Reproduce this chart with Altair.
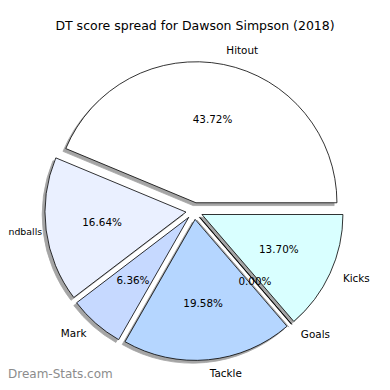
import altair as alt
import pandas as pd

labels = ["Hitout", "Handballs", "Mark", "Tackle", "Goals", "Kicks"]
values = [43.72, 16.64, 6.36, 19.58, 0.00, 13.70]
colors = ["#ffffff", "#eaf0ff", "#c6d9ff", "#b5d6ff", "#a8ccff", "#d9ffff"]
title_text = ["DT score spread for Dawson Simpson (2018)"]
watermark_text = ["Dream-Stats.com"]

df = pd.DataFrame({"label": labels, "value": values,
                   "order": list(range(len(labels))), "color": colors})

CX, CY, R, D = 186.3, 203.0, 141.0, 8.4
SH = 2.8
FONT = "DejaVu Sans"

base = (
    alt.Chart(df)
    .transform_joinaggregate(total="sum(value)")
    .transform_window(cum="sum(value)", sort=[alt.SortField("order")], frame=[None, 0])
    .transform_calculate(
        a1="(datum.cum - datum.value) / datum.total * 2 * PI",
        a2="datum.cum / datum.total * 2 * PI",
    )
    .transform_calculate(
        mid="(datum.a1 + datum.a2) / 2",
        t1="PI / 2 - datum.a2",
        t2="PI / 2 - datum.a1",
    )
    .transform_calculate(
        cx=f"{CX} + {D} * cos(datum.mid)",
        cy=f"{CY} - {D} * sin(datum.mid)",
    )
    .transform_calculate(
        edge="cos(datum.mid) < -0.9 ? 1 : 0",
        lx=f"datum.cx + 1.1 * {R} * cos(datum.mid) + (cos(datum.mid) < -0.9 ? 10 : 0)",
        ly=f"datum.cy - 1.1 * {R} * sin(datum.mid)",
        px=f"datum.cx + 0.6 * {R} * cos(datum.mid)",
        py=f"datum.cy - 0.6 * {R} * sin(datum.mid)",
        sx=f"datum.cx - {SH}",
        sy=f"datum.cy + {SH}",
        pct="format(datum.value / datum.total * 100, '.2f') + '%'",
        right="cos(datum.mid) >= 0 ? 1 : 0",
    )
)

shadow = base.mark_arc(radius=R, fill="#4d4d4d", opacity=0.5, stroke="#4d4d4d", strokeWidth=0.8).encode(
    theta=alt.Theta("t1:Q", scale=None, stack=None),
    theta2="t2:Q",
    x=alt.X("sx:Q", scale=None),
    y=alt.Y("sy:Q", scale=None),
)

wedges = base.mark_arc(radius=R, stroke="black", strokeWidth=0.8).encode(
    theta=alt.Theta("t1:Q", scale=None, stack=None),
    theta2="t2:Q",
    x=alt.X("cx:Q", scale=None),
    y=alt.Y("cy:Q", scale=None),
    fill=alt.Fill("color:N", scale=None),
)

lab_left = base.transform_filter("datum.right == 1").mark_text(
    align="left", baseline="middle", font=FONT, fontSize=10.4, color="black"
).encode(x=alt.X("lx:Q", scale=None), y=alt.Y("ly:Q", scale=None), text="label:N")

lab_right = base.transform_filter("datum.right == 0").mark_text(
    align="right", baseline="middle", font=FONT, color="black"
).encode(
    x=alt.X("lx:Q", scale=None), y=alt.Y("ly:Q", scale=None), text="label:N",
    size=alt.condition("datum.edge == 1", alt.value(9.4), alt.value(10.4)),
)

pcts = base.mark_text(
    align="center", baseline="middle", font=FONT, fontSize=10.4, color="black"
).encode(x=alt.X("px:Q", scale=None), y=alt.Y("py:Q", scale=None), text="pct:N")

title = alt.Chart(pd.DataFrame({"t": title_text})).mark_text(
    align="center", baseline="middle", font=FONT, fontSize=12.5, color="black"
).encode(text="t:N", x=alt.value(187), y=alt.value(18))

watermark = alt.Chart(pd.DataFrame({"t": watermark_text})).mark_text(
    align="left", baseline="middle", font=FONT, fontSize=12, color="#8c8c8c"
).encode(text="t:N", x=alt.value(0), y=alt.value(366))

chart = alt.layer(shadow, wedges, lab_left, lab_right, pcts, title, watermark).properties(
    width=374, height=374, autosize="none", padding=0, background="white"
).configure_view(stroke=None)

chart.save("out.html", embed_options={"renderer": "svg", "actions": False})
